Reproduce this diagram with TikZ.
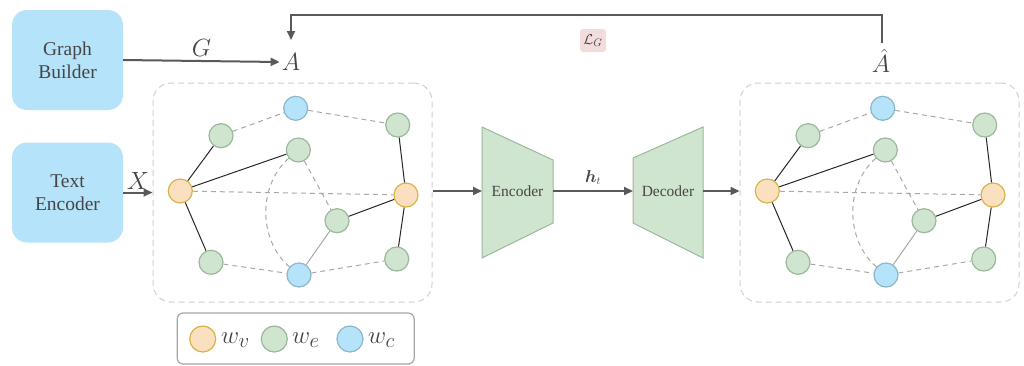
\documentclass[tikz,border=0pt]{standalone}
\usepackage{amsmath}
\usepackage{fontspec}
\setmainfont{Liberation Serif}
\newfontfamily\labelfont{Liberation Serif}
\usetikzlibrary{arrows.meta}
\definecolor{boxblue}{HTML}{B5E3FA}
\definecolor{wvfill}{HTML}{FBE0BF}
\definecolor{wvline}{HTML}{D9B348}
\definecolor{wefill}{HTML}{CFE5CF}
\definecolor{weline}{HTML}{9CB89C}
\definecolor{wcfill}{HTML}{B5E3FA}
\definecolor{wcline}{HTML}{8DB6C9}
\definecolor{txt}{HTML}{454545}
\definecolor{arr}{HTML}{595959}
\definecolor{dash}{HTML}{A8A8A8}
\definecolor{frame}{HTML}{CFCFCF}
\definecolor{lossbg}{HTML}{F3DCDC}
\tikzset{
  module/.style={fill=boxblue, rounded corners=15pt, minimum width=111pt,
    minimum height=100pt, align=center, text=txt,
    font=\labelfont\fontsize{19.5}{23}\selectfont},
  vnode/.style={circle, draw=wvline, fill=wvfill, line width=1.2pt, minimum size=24pt, inner sep=0pt},
  enode/.style={circle, draw=weline, fill=wefill, line width=1.2pt, minimum size=24pt, inner sep=0pt},
  cnode/.style={circle, draw=wcline, fill=wcfill, line width=1.2pt, minimum size=24pt, inner sep=0pt},
  solidedge/.style={draw=black!85, line width=1pt},
  softedge/.style={draw=dash, line width=1pt},
  dashedge/.style={draw=dash, line width=1pt, dash pattern=on 5pt off 4pt},
  flow/.style={draw=arr, line width=2pt, -{Triangle[length=9pt,width=8pt]}},
  mathlbl/.style={text=txt, font=\fontsize{25}{28}\selectfont, inner sep=2pt},
  legendlbl/.style={text=txt, font=\fontsize{28}{30}\selectfont, inner sep=0pt, anchor=west},
  frameline/.style={draw=frame, line width=1pt, dash pattern=on 6pt off 4pt, rounded corners=18pt},
  trap/.style={fill=wefill, draw=weline, line width=1pt},
  trlabel/.style={text=txt, font=\labelfont\fontsize{15.5}{18}\selectfont, inner sep=1pt},
}
% one copy of the word graph: nodes, then edges between them
\newcommand{\wordgraph}{%
  \node[cnode] (ct) at (295.7,108.3) {};
  \node[enode] (etl) at (221,135.7) {};
  \node[enode] (etr) at (397.7,125) {};
  \node[enode] (em) at (298.3,150) {};
  \node[vnode] (vl) at (180.3,191) {};
  \node[vnode] (vr) at (406,195) {};
  \node[enode] (ecr) at (337,220.7) {};
  \node[enode] (ebl) at (211,262.3) {};
  \node[cnode] (cb) at (299,275) {};
  \node[enode] (ebr) at (396.7,259) {};
  \draw[solidedge] (vl) -- (etl);
  \draw[solidedge] (vl) -- (em);
  \draw[solidedge] (vl) -- (ebl);
  \draw[solidedge] (vr) -- (etr);
  \draw[solidedge] (vr) -- (ecr);
  \draw[solidedge] (vr) -- (ebr);
  \draw[softedge] (cb) -- (ecr);
  \draw[dashedge] (etl) -- (ct);
  \draw[dashedge] (ct) -- (etr);
  \draw[dashedge] (vl) -- (vr);
  \draw[dashedge] (em) -- (ecr);
  \draw[dashedge] (em) .. controls (258,185) and (258,240) .. (cb);
  \draw[dashedge] (ebl) -- (cb);
  \draw[dashedge] (cb) -- (ebr);
}
\begin{document}
\begin{tikzpicture}[x=1pt, y=-1pt]
\useasboundingbox (0,0) rectangle (1024,365);

% input modules
\node[module] (gb) at (67.5,60) {Graph\\Builder};
\node[module] (te) at (67.5,192.5) {Text\\Encoder};

% adjacency labels
\node[mathlbl] (A) at (291,62) {$A$};
\node[mathlbl] (Ah) at (881,61) {$\hat{A}$};
\coordinate (Atop) at (291,40);
\coordinate (Ahtop) at (882,43);
\draw[flow] (gb.east) -- (A.west) node[midway, above=2pt, mathlbl] (G) {$G$};

% graph frames
\node[frameline, minimum width=279pt, minimum height=219pt] (lf) at (292.5,192.5) {};
\node[frameline, minimum width=279pt, minimum height=219pt] (rf) at (879.5,192.5) {};

\draw[flow] (te.east) -- (lf.west) node[midway, above=0pt, mathlbl] (X) {$X$};

% graphs
\begin{scope}[name prefix=l-]
  \wordgraph
\end{scope}
\begin{scope}[name prefix=r-, xshift=587pt]
  \wordgraph
\end{scope}

% encoder / decoder
\coordinate (e1) at (482,127);
\coordinate (e2) at (553,160);
\coordinate (e3) at (553,223);
\coordinate (e4) at (482,258);
\draw[trap] (e1) -- (e2) -- (e3) -- (e4) -- cycle;
\node[trlabel] (enc) at (517.5,191) {Encoder};
\coordinate (d1) at (633,158);
\coordinate (d2) at (703,127);
\coordinate (d3) at (703,258);
\coordinate (d4) at (633,223);
\draw[trap] (d1) -- (d2) -- (d3) -- (d4) -- cycle;
\node[trlabel] (dec) at (668,191) {Decoder};
\coordinate (encin) at (482,191);
\coordinate (encout) at (553,191);
\coordinate (decin) at (633,191);
\coordinate (decout) at (703,191);
\draw[flow] (lf.east |- encin) -- (encin);
\draw[flow] (encout) -- (decin) node[midway, above=2pt, text=txt, font=\fontsize{16}{18}\selectfont] (ht) {$\boldsymbol{h}_t$};
\draw[flow] (decout) -- (rf.west |- decout);

% reconstruction loss feedback
\coordinate (fb) at (587,15);
\draw[flow] (Ahtop) |- (fb) -| (Atop);
\node[fill=lossbg, rounded corners=3pt, minimum width=26pt, minimum height=23pt, inner sep=1pt,
  text=txt, font=\fontsize{15}{16}\selectfont] (loss) at (593,40.5) {$\mathcal{L}_G$};

% legend
\node[draw=frame!80!black, line width=1.2pt, rounded corners=6pt, minimum width=237pt, minimum height=51pt] (leg) at (295.7,338.5) {};
\node[vnode, minimum size=26pt] (lv) at (202.7,339) {};
\node[legendlbl] (lvt) at (221,340) {$w_v$};
\node[enode, minimum size=26pt] (le) at (274.3,339) {};
\node[legendlbl] (let) at (292,340) {$w_e$};
\node[cnode, minimum size=26pt] (lc) at (350,339) {};
\node[legendlbl] (lct) at (368,340) {$w_c$};
\end{tikzpicture}
\end{document}
